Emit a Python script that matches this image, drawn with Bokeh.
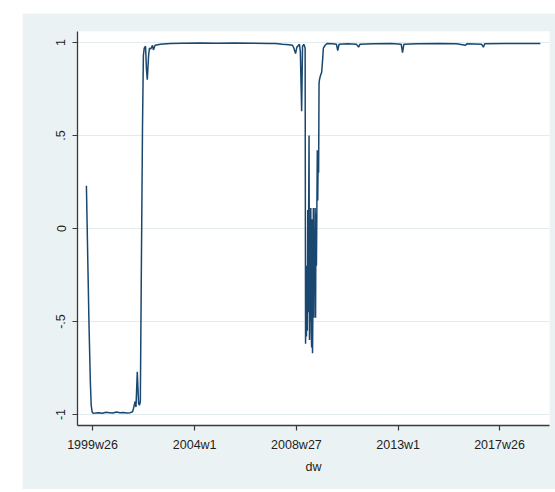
from bokeh.plotting import figure
from bokeh.models import FixedTicker, Range1d
from bokeh.embed import file_html
from bokeh.resources import INLINE

# Stata weekly dates (weeks since 1960w1) and the correlation series
week = [2039, 2042, 2045, 2048, 2050, 2052, 2054, 2060, 2068, 2076, 2084, 2092,
        2100, 2108, 2116, 2124, 2132, 2140, 2145, 2147, 2151, 2153, 2156, 2159,
        2161, 2163, 2165, 2168, 2170, 2172, 2175, 2177, 2179, 2182, 2184, 2187,
        2191, 2193, 2197, 2209, 2232, 2260, 2300, 2340, 2380, 2420, 2460, 2474,
        2490, 2505, 2513, 2516, 2520, 2523, 2529, 2531, 2534, 2536, 2539, 2542,
        2543, 2544, 2545, 2546, 2547, 2548, 2549, 2550, 2551, 2552, 2553, 2554,
        2555, 2556, 2557, 2558, 2559, 2560, 2561, 2562, 2563, 2564, 2565, 2566,
        2567, 2568, 2569, 2570, 2571, 2572, 2573, 2574, 2575, 2577, 2580, 2582,
        2584, 2588, 2593, 2605, 2614, 2617, 2620, 2640, 2660, 2665, 2668, 2700,
        2740, 2763, 2766, 2769, 2800, 2850, 2890, 2911, 2914, 2948, 2952, 2955,
        3000, 3040, 3083]
corr = [0.23, -0.15, -0.52, -0.82, -0.95, -0.985, -0.993, -0.992, -0.99, -0.993, -0.988, -0.99,
        -0.992, -0.986, -0.99, -0.989, -0.992, -0.99, -0.985, -0.97, -0.93, -0.96, -0.77, -0.94,
        -0.95, -0.93, -0.32, 0.55, 0.93, 0.97, 0.98, 0.86, 0.80, 0.93, 0.97, 0.965,
        0.985, 0.96, 0.985, 0.99, 0.994, 0.996, 0.997, 0.996, 0.997, 0.996, 0.995, 0.995,
        0.99, 0.988, 0.985, 0.97, 0.94, 0.975, 0.99, 0.95, 0.63, 0.98, 0.99, 0.97,
        -0.62, -0.30, -0.58, -0.20, -0.55, 0.10, -0.45, 0.05, 0.50, -0.60, -0.10, -0.50,
        0.11, -0.55, -0.64, 0.05, -0.67, -0.40, 0.11, -0.48, 0.00, -0.35, 0.11, -0.48,
        0.08, -0.20, 0.11, 0.42, 0.15, 0.40, 0.30, 0.78, 0.80, 0.82, 0.84, 0.90,
        0.97, 0.985, 0.995, 0.993, 0.99, 0.957, 0.99, 0.993, 0.99, 0.975, 0.99, 0.993,
        0.994, 0.99, 0.946, 0.99, 0.993, 0.994, 0.993, 0.985, 0.993, 0.99, 0.975, 0.993,
        0.994, 0.994, 0.994]

x_ticks = [2053, 2288, 2522, 2756, 2989]
x_tick_labels = ["1999w26", "2004w1", "2008w27", "2013w1", "2017w26"]
y_ticks = [-1, -0.5, 0, 0.5, 1]
y_tick_labels = ["-1", "-.5", "0", ".5", "1"]

OUTER = "#eaf2f3"
GRID = "#e2ecef"
AXIS = "#3a3a3a"
FONT = "Liberation Sans"

p = figure(width=533, height=476, output_backend="svg", toolbar_location=None,
           x_range=Range1d(2018.5, 3104), y_range=Range1d(-1.059, 1.059),
           min_border_left=55, min_border_right=6, min_border_top=18,
           min_border_bottom=64)
p.margin = (13, 0, 0, 22)
p.border_fill_color = OUTER
p.background_fill_color = "white"
p.outline_line_color = None

p.line(week, corr, line_color="#1a476f", line_width=1.5)

p.xgrid.grid_line_color = None
p.ygrid.grid_line_color = GRID
p.ygrid.grid_line_width = 1.2
p.ygrid.ticker = FixedTicker(ticks=y_ticks)

p.xaxis.ticker = FixedTicker(ticks=x_ticks)
p.xaxis.major_label_overrides = {t: l for t, l in zip(x_ticks, x_tick_labels)}
p.yaxis.ticker = FixedTicker(ticks=y_ticks)
p.yaxis.major_label_overrides = {t: l for t, l in zip(y_ticks, y_tick_labels)}
p.yaxis.major_label_orientation = "vertical"

p.xaxis.axis_label = "dw"
for ax in (p.xaxis, p.yaxis):
    ax.axis_line_color = AXIS
    ax.axis_line_width = 1.3
    ax.major_tick_line_color = AXIS
    ax.major_tick_line_width = 1.2
    ax.major_tick_out = 5
    ax.major_tick_in = 0
    ax.minor_tick_line_color = None
    ax.major_label_text_font = FONT
    ax.major_label_text_font_size = "12.5px"
    ax.major_label_text_color = "#1e1e1e"
    ax.major_label_standoff = 7
    ax.axis_label_text_font = FONT
    ax.axis_label_text_font_size = "12.5px"
    ax.axis_label_text_font_style = "normal"
    ax.axis_label_text_color = "#1e1e1e"
    ax.axis_label_standoff = 5

open("out.html", "w").write(file_html(p, INLINE))
